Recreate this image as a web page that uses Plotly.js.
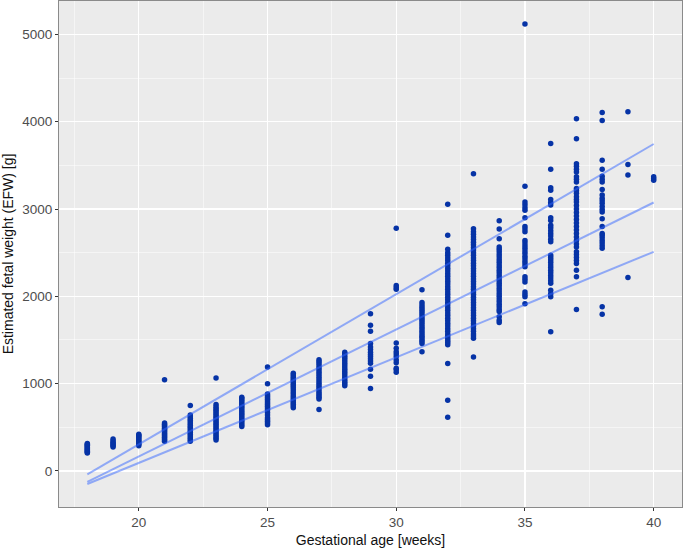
<!DOCTYPE html>
<html>
<head>
<meta charset="utf-8">
<script src="https://cdn.plot.ly/plotly-3.0.1.min.js"></script>
<style>
  html, body { margin: 0; padding: 0; background: #ffffff; }
  #chart { width: 685px; height: 549px; }
</style>
</head>
<body>
<div id="chart"></div>
<script>
// gestational weeks and the EFW readings at each week (g)
const weeks = [18, 19, 20, 21, 22, 23, 24, 25, 26, 27, 28, 29, 30, 31, 32, 33, 34, 35, 36, 37, 38, 39, 40];
const efwByWeek = [
  [205, 215, 225, 235, 245, 255, 265, 275, 285, 295, 305, 315],
  [275, 290, 300, 315, 330, 345, 365],
  [290, 305, 320, 335, 350, 365, 380, 395, 410, 420],
  [340, 355, 370, 385, 400, 415, 430, 445, 460, 475, 490, 505, 520, 535, 550, 1045],
  [340, 360, 380, 400, 420, 440, 460, 480, 500, 520, 540, 560, 580, 600, 620, 640, 750],
  [355, 375, 395, 415, 435, 455, 475, 495, 515, 535, 555, 575, 595, 615, 635, 655, 675, 695, 715, 735, 760, 1065],
  [510, 530, 550, 570, 590, 610, 630, 650, 670, 690, 710, 730, 750, 770, 790, 810, 830, 845],
  [530, 550, 570, 590, 610, 640, 670, 700, 720, 740, 760, 780, 800, 820, 840, 860, 880, 1000, 1190],
  [725, 745, 765, 785, 805, 830, 855, 880, 905, 930, 955, 980, 1000, 1020, 1040, 1060, 1080, 1100, 1120],
  [705, 825, 845, 865, 885, 905, 930, 955, 980, 1005, 1030, 1055, 1080, 1105, 1130, 1155, 1180, 1205, 1230, 1255, 1275],
  [975, 995, 1015, 1040, 1065, 1090, 1115, 1140, 1165, 1190, 1215, 1240, 1265, 1290, 1315, 1340, 1360],
  [945, 1085, 1165, 1235, 1260, 1285, 1310, 1335, 1360, 1390, 1420, 1460, 1600, 1670, 1800],
  [1130, 1160, 1175, 1240, 1270, 1310, 1340, 1365, 1405, 1465, 2080, 2100, 2125, 2780],
  [1365, 1460, 1485, 1505, 1530, 1550, 1575, 1600, 1625, 1650, 1675, 1700, 1725, 1750, 1775, 1800, 1825, 1850, 1875, 1900, 1930, 2075],
  [615, 810, 1230, 1445, 1470, 1495, 1520, 1545, 1570, 1600, 1630, 1660, 1690, 1720, 1750, 1780, 1810, 1840, 1870, 1900,
   1930, 1960, 1990, 2020, 2050, 2080, 2110, 2140, 2170, 2200, 2230, 2260, 2290, 2320, 2350, 2380, 2410, 2440, 2470, 2500, 2540, 2700, 3055],
  [1305, 1520, 1545, 1570, 1600, 1630, 1660, 1690, 1720, 1750, 1780, 1810, 1840, 1870, 1900, 1930, 1960, 1990, 2020, 2050, 2080,
   2110, 2140, 2170, 2200, 2230, 2260, 2290, 2320, 2350, 2380, 2410, 2440, 2470, 2500, 2530, 2560, 2590, 2620, 2650, 2680, 2710, 2740, 2775, 3405],
  [1700, 1725, 1765, 1825, 1850, 1880, 1910, 1940, 1970, 2000, 2030, 2060, 2090, 2120, 2150, 2180, 2210, 2240, 2270, 2300,
   2330, 2360, 2390, 2420, 2450, 2480, 2510, 2540, 2565, 2660, 2770, 2865],
  [1915, 1995, 2020, 2050, 2165, 2195, 2225, 2340, 2370, 2400, 2430, 2460, 2490, 2520, 2550, 2580, 2610, 2640, 2740, 2770, 2800, 2900, 2985, 3015, 3050, 3080, 3260, 5120],
  [1595, 1995, 2030, 2070, 2150, 2180, 2210, 2240, 2270, 2300, 2330, 2360, 2390, 2420, 2445, 2470, 2625, 2655, 2690, 2720, 2750, 2785, 2815, 2870, 2900, 3045, 3075, 3110, 3215, 3245, 3455, 3750],
  [1850, 2225, 2300, 2375, 2410, 2445, 2480, 2510, 2565, 2600, 2640, 2680, 2720, 2760, 2800, 2840, 2880, 2920, 2960, 3000, 3040, 3080, 3110, 3140, 3180, 3210, 3235, 3310, 3340, 3370, 3425, 3455, 3490, 3520, 3805, 4035],
  [1795, 1880, 2550, 2580, 2610, 2640, 2670, 2700, 2720, 2800, 2890, 2965, 2995, 3030, 3065, 3095, 3125, 3160, 3225, 3310, 3340, 3375, 3455, 3560, 4015, 4105],
  [2215, 3390, 3510, 4115],
  [3330, 3350, 3370]
];

// quantile regression lines (end points)
const lineX = [18, 40];
const qLow = [-150, 2510];
const qMid = [-125, 3075];
const qHigh = [-40, 3745];

const xTicks = [20, 25, 30, 35, 40];
const yTicks = [0, 1000, 2000, 3000, 4000, 5000];

const ptX = [], ptY = [];
weeks.forEach((w, i) => efwByWeek[i].forEach(v => { ptX.push(w); ptY.push(v); }));

const lineStyle = { color: "rgba(51,102,255,0.5)", width: 2 };
const traces = [
  { x: ptX, y: ptY, type: "scatter", mode: "markers", marker: { color: "#0633a6", size: 5.5 }, hoverinfo: "x+y" },
  { x: lineX, y: qLow, type: "scatter", mode: "lines", line: lineStyle },
  { x: lineX, y: qMid, type: "scatter", mode: "lines", line: lineStyle },
  { x: lineX, y: qHigh, type: "scatter", mode: "lines", line: lineStyle }
];

const tickFont = { family: "Liberation Sans, Arial, sans-serif", size: 13.5, color: "#4d4d4d" };
const titleFont = { family: "Liberation Sans, Arial, sans-serif", size: 14, color: "#111111" };

const layout = {
  width: 685, height: 549,
  margin: { l: 59, r: 3, t: 1, b: 42 },
  paper_bgcolor: "#ffffff", plot_bgcolor: "#ebebeb",
  showlegend: false,
  xaxis: {
    range: [16.9, 41.1], tickvals: xTicks, ticktext: xTicks.map(String),
    ticks: "outside", ticklen: 3, tickcolor: "#333333", tickfont: tickFont,
    gridcolor: "#ffffff", gridwidth: 1.2, zeroline: false,
    minor: { dtick: 2.5, tick0: 17.5, showgrid: true, gridcolor: "#ffffff", gridwidth: 0.5, ticks: "" },
    showline: true, linecolor: "#8a8a8a", linewidth: 1, mirror: true,
    title: { text: "Gestational age [weeks]", font: titleFont, standoff: 5 }
  },
  yaxis: {
    range: [-413, 5383], tickvals: yTicks, ticktext: yTicks.map(String),
    ticks: "outside", ticklen: 3, tickcolor: "#333333", tickfont: tickFont,
    gridcolor: "#ffffff", gridwidth: 1.2, zeroline: false,
    minor: { dtick: 500, tick0: 500, showgrid: true, gridcolor: "#ffffff", gridwidth: 0.5, ticks: "" },
    showline: true, linecolor: "#8a8a8a", linewidth: 1, mirror: true,
    title: { text: "Estimated fetal weight (EFW) [g]", font: titleFont, standoff: 5 }
  }
};

Plotly.newPlot("chart", traces, layout, { displayModeBar: false, staticPlot: true });
</script>
</body>
</html>
